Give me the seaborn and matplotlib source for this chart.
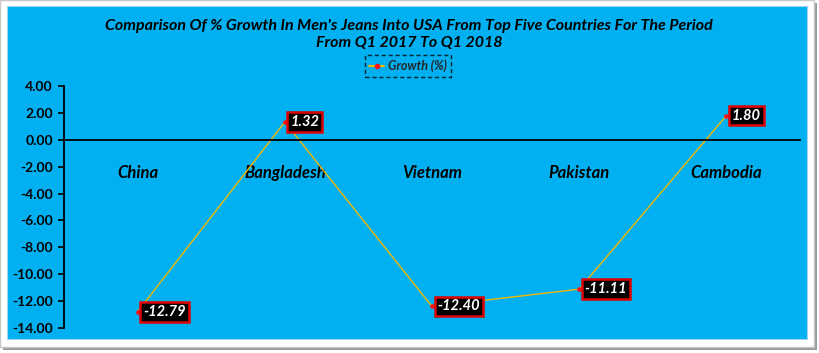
import matplotlib
matplotlib.use("Agg")
import matplotlib.pyplot as plt
import seaborn as sns
import pandas as pd
from matplotlib.patches import Rectangle
from matplotlib.lines import Line2D

countries = ["China", "Bangladesh", "Vietnam", "Pakistan", "Cambodia"]
growth = [-12.79, 1.32, -12.40, -11.11, 1.80]
y_ticks = [4, 2, 0, -2, -4, -6, -8, -10, -12, -14]
title = "Comparison Of % Growth In Men's Jeans Into USA From Top Five Countries For The Period\nFrom Q1 2017 To Q1 2018"
legend_label = "Growth (%)"

sns.set_theme(style="white")
FONT = ["Lato", "DejaVu Sans"]
plt.rcParams["font.family"] = FONT

W, H = 820, 353
fig = plt.figure(figsize=(W / 100, H / 100), dpi=100)
fig.patch.set_facecolor("white")

def fx(x):
    return x / W

def fy(y):
    return 1 - y / H

# outer frame + shadow
fig.patches.append(Rectangle((fx(3), fy(350)), fx(814), 347 / H, transform=fig.transFigure,
                             facecolor="#9a9a9a", edgecolor="none", zorder=-3))
fig.patches.append(Rectangle((fx(0), fy(347)), fx(814), 347 / H, transform=fig.transFigure,
                             facecolor="white", edgecolor="#c8c8c8", lw=1, zorder=-2))
# blue chart area
fig.patches.append(Rectangle((fx(7), fy(339)), fx(800), 333 / H, transform=fig.transFigure,
                             facecolor="#00B0F0", edgecolor="#9fd8ee", lw=0.8, zorder=-1))

ax = fig.add_axes([fx(64), fy(328), fx(736), (328 - 86) / H])
ax.set_facecolor("none")

df = pd.DataFrame({"Country": countries, "Growth": growth})
sns.lineplot(data=df, x="Country", y="Growth", ax=ax, color="#F5B800", lw=1.0,
             marker="o", markersize=2.6, markerfacecolor="#FF1010", markeredgecolor="#FF1010",
             sort=False)

ax.set_xlim(-0.5, len(countries) - 0.5)
ax.set_ylim(-14, 4)
ax.set_yticks(y_ticks)
ax.set_yticklabels([f"{v:.2f}" for v in y_ticks], fontweight="bold", fontsize=10, color="black")
ax.set_xlabel("")
ax.set_ylabel("")

for s in ["top", "right"]:
    ax.spines[s].set_visible(False)
ax.spines["left"].set_color("black")
ax.spines["left"].set_linewidth(1.3)
ax.spines["bottom"].set_position(("data", 0))
ax.spines["bottom"].set_color("black")
ax.spines["bottom"].set_linewidth(1.3)
ax.tick_params(axis="y", left=True, direction="out", length=4, width=1.2, color="black", pad=4)
ax.tick_params(axis="x", bottom=False, pad=12)
for lbl in ax.get_xticklabels():
    lbl.set_fontweight("bold")
    lbl.set_fontstyle("italic")
    lbl.set_fontsize(12)
    lbl.set_color("black")

for i, v in enumerate(growth):
    ax.annotate(f"{v:.2f}", xy=(i, v), xytext=(4, 0), textcoords="offset points",
                ha="left", va="center", color="white", fontweight="bold", fontstyle="italic",
                fontsize=10.5,
                bbox=dict(boxstyle="square,pad=0.2", facecolor="black", edgecolor="#E00000", lw=1.8))

fig.text(fx(409), fy(34.5), title, ha="center", va="center", fontsize=11.5, fontweight="bold",
         fontstyle="italic", color="black", linespacing=1.2)

handle = Line2D([], [], color="#F5B800", lw=1.5, marker="o", markersize=3,
                markerfacecolor="#FF1010", markeredgecolor="#FF1010")
leg = fig.legend([handle], [legend_label], loc="center", bbox_to_anchor=(fx(408), fy(66)),
                 frameon=True, handlelength=1.2, handletextpad=0.3,
                 borderpad=0.35, fancybox=False, prop={"weight": "bold", "style": "italic", "size": 9})
frame = leg.get_frame()
frame.set_facecolor("none")
frame.set_edgecolor("black")
frame.set_linestyle((0, (3, 2)))
frame.set_linewidth(1)

fig.savefig("out.png", dpi=100)
